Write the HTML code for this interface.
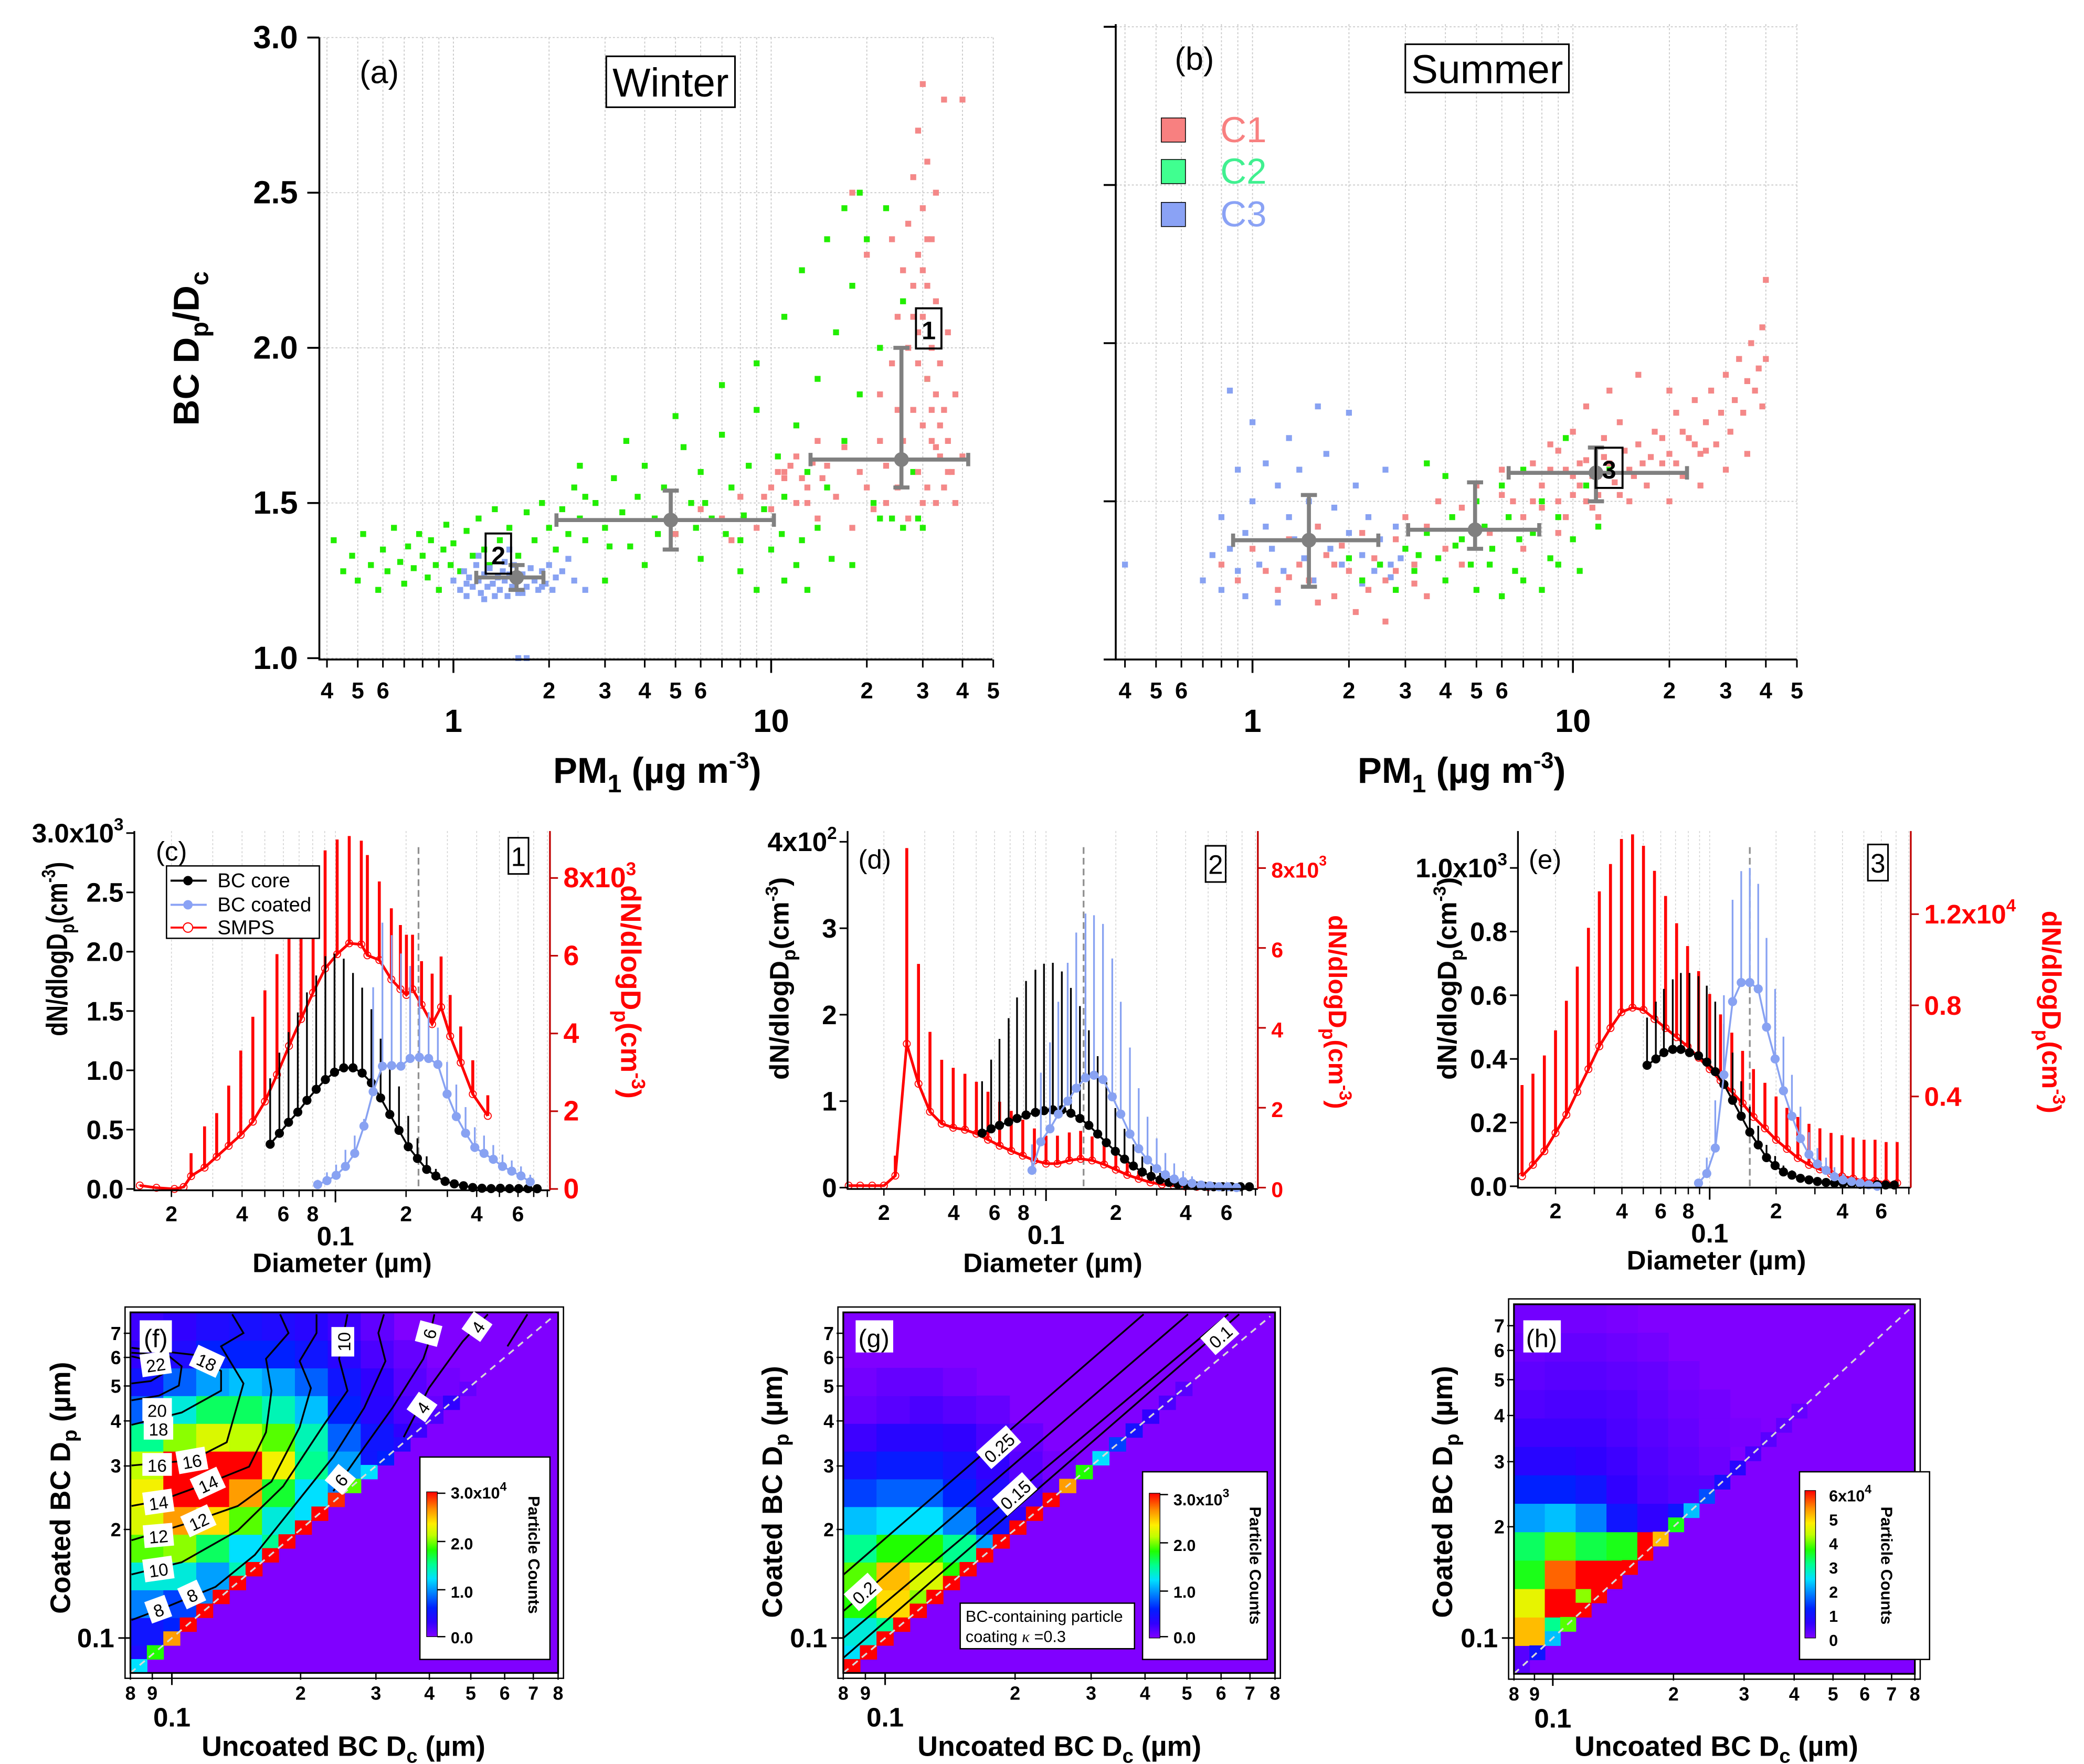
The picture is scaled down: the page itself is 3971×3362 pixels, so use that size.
<!DOCTYPE html>
<html><head><meta charset="utf-8">
<style>
html,body{margin:0;padding:0;background:#fff;}
svg{display:block;font-family:"Liberation Sans",Arial,sans-serif;}
</style></head>
<body>
<svg id="fig" xmlns="http://www.w3.org/2000/svg" viewBox="0 0 1554 1316" width="3971" height="3362">
<defs>
<linearGradient id="cbar" x1="0" y1="1" x2="0" y2="0">
<stop offset="0" stop-color="#8000ff"/><stop offset="0.1" stop-color="#3000ff"/><stop offset="0.2" stop-color="#0020ff"/><stop offset="0.3" stop-color="#0080ff"/><stop offset="0.4" stop-color="#00e0ff"/><stop offset="0.5" stop-color="#00ff90"/><stop offset="0.6" stop-color="#20ff00"/><stop offset="0.7" stop-color="#c0ff00"/><stop offset="0.78" stop-color="#ffee00"/><stop offset="0.88" stop-color="#ff9000"/><stop offset="1" stop-color="#ff0000"/>
</linearGradient>
</defs>
<rect x="0" y="0" width="1554" height="1316" fill="#fff"/>
<g id="marks"></g>

<g id="overlay" font-family="Liberation Sans, Arial, sans-serif">
<!-- Panel a -->
<text x="268" y="62" font-size="24">(a)</text>
<rect x="452" y="42" width="96" height="38" fill="#fff" stroke="#000" stroke-width="1.2"/>
<text x="500" y="72" font-size="30" text-anchor="middle">Winter</text>
<rect x="683" y="230" width="19" height="30" fill="none" stroke="#000" stroke-width="1.5"/>
<text x="692.5" y="253" font-size="19" font-weight="bold" text-anchor="middle">1</text>
<rect x="362" y="398" width="19" height="30" fill="none" stroke="#000" stroke-width="1.5"/>
<text x="371.5" y="421" font-size="19" font-weight="bold" text-anchor="middle">2</text>
<text transform="translate(148,260) rotate(-90)" text-anchor="middle" font-size="27" font-weight="bold">BC D<tspan font-size="19" dy="7">p</tspan><tspan dy="-7">/D</tspan><tspan font-size="19" dy="7">c</tspan></text>
<text x="490" y="584" text-anchor="middle" font-size="27" font-weight="bold">PM<tspan font-size="19" dy="7">1</tspan><tspan dy="-7"> (µg m</tspan><tspan font-size="17" dy="-11">-3</tspan><tspan dy="11">)</tspan></text>

<!-- Panel b -->
<text x="876" y="52" font-size="24">(b)</text>
<rect x="1048" y="33" width="122" height="36" fill="#fff" stroke="#000" stroke-width="1.2"/>
<text x="1109" y="62" font-size="30" text-anchor="middle">Summer</text>
<rect x="1190" y="334" width="20" height="30" fill="none" stroke="#000" stroke-width="1.5"/>
<text x="1200" y="357" font-size="19" font-weight="bold" text-anchor="middle">3</text>
<rect x="866" y="88" width="18" height="18" fill="#f88080" stroke="#000" stroke-width="0.6"/>
<text x="910" y="106" font-size="27" fill="#f88080">C1</text>
<rect x="866" y="119" width="18" height="18" fill="#40ff90" stroke="#000" stroke-width="0.6"/>
<text x="910" y="137" font-size="27" fill="#40f090">C2</text>
<rect x="866" y="151" width="18" height="18" fill="#8aa2f5" stroke="#000" stroke-width="0.6"/>
<text x="910" y="169" font-size="27" fill="#8aa2f5">C3</text>
<text x="1090" y="584" text-anchor="middle" font-size="27" font-weight="bold">PM<tspan font-size="19" dy="7">1</tspan><tspan dy="-7"> (µg m</tspan><tspan font-size="17" dy="-11">-3</tspan><tspan dy="11">)</tspan></text>

<!-- Panel c -->
<text x="116" y="642" font-size="20">(c)</text>
<rect x="379" y="625" width="15" height="27" fill="#fff" stroke="#000" stroke-width="1.2"/>
<text x="386.5" y="646" font-size="20" text-anchor="middle">1</text>
<rect x="124" y="646" width="114" height="54" fill="#fff" stroke="#000" stroke-width="1"/>
<line x1="127" y1="657" x2="154" y2="657" stroke="#000" stroke-width="1.5"/>
<circle cx="140" cy="657" r="3.5" fill="#000"/>
<text x="162" y="662" font-size="15">BC core</text>
<line x1="127" y1="675" x2="154" y2="675" stroke="#8aa2f5" stroke-width="1.5"/>
<circle cx="140" cy="675" r="3.5" fill="#8aa2f5"/>
<text x="162" y="680" font-size="15">BC coated</text>
<line x1="127" y1="692" x2="154" y2="692" stroke="#f00" stroke-width="1.5"/>
<circle cx="140" cy="692" r="3.5" fill="#fff" stroke="#f00" stroke-width="0.8"/>
<text x="162" y="697" font-size="15">SMPS</text>
<text transform="translate(50,708) rotate(-90)" text-anchor="middle" font-size="22" font-weight="bold" textLength="130" lengthAdjust="spacingAndGlyphs">dN/dlogD<tspan font-size="15" dy="5">p</tspan><tspan dy="-5">(cm</tspan><tspan font-size="14" dy="-9">-3</tspan><tspan dy="9">)</tspan></text>
<text transform="translate(463,740) rotate(90)" text-anchor="middle" font-size="21" font-weight="bold" fill="#f00">dN/dlogD<tspan font-size="15" dy="5">p</tspan><tspan dy="-5">(cm</tspan><tspan font-size="14" dy="-8">-3</tspan><tspan dy="8">)</tspan></text>
<text x="255" y="949" text-anchor="middle" font-size="20" font-weight="bold">Diameter (µm)</text>

<!-- Panel d -->
<text x="640" y="648" font-size="20">(d)</text>
<rect x="899" y="631" width="15" height="27" fill="#fff" stroke="#000" stroke-width="1.2"/>
<text x="906.5" y="652" font-size="20" text-anchor="middle">2</text>
<text transform="translate(588,730) rotate(-90)" text-anchor="middle" font-size="20" font-weight="bold">dN/dlogD<tspan font-size="14" dy="5">p</tspan><tspan dy="-5">(cm</tspan><tspan font-size="13" dy="-8">-3</tspan><tspan dy="8">)</tspan></text>
<text transform="translate(991,755) rotate(90)" text-anchor="middle" font-size="19" font-weight="bold" fill="#f00">dN/dlogD<tspan font-size="14" dy="5">p</tspan><tspan dy="-5">(cm</tspan><tspan font-size="13" dy="-8">-3</tspan><tspan dy="8">)</tspan></text>
<text x="785" y="949" text-anchor="middle" font-size="20" font-weight="bold">Diameter (µm)</text>

<!-- Panel e -->
<text x="1140" y="648" font-size="20">(e)</text>
<rect x="1393" y="630" width="15" height="27" fill="#fff" stroke="#000" stroke-width="1.2"/>
<text x="1400.5" y="651" font-size="20" text-anchor="middle">3</text>
<text transform="translate(1086,730) rotate(-90)" text-anchor="middle" font-size="20" font-weight="bold">dN/dlogD<tspan font-size="14" dy="5">p</tspan><tspan dy="-5">(cm</tspan><tspan font-size="13" dy="-8">-3</tspan><tspan dy="8">)</tspan></text>
<text transform="translate(1523,755) rotate(90)" text-anchor="middle" font-size="20" font-weight="bold" fill="#f00">dN/dlogD<tspan font-size="14" dy="5">p</tspan><tspan dy="-5">(cm</tspan><tspan font-size="13" dy="-8">-3</tspan><tspan dy="8">)</tspan></text>
<text x="1280" y="947" text-anchor="middle" font-size="20" font-weight="bold">Diameter (µm)</text>

<!-- Panel f annotations -->
<g font-size="13" text-anchor="middle">
<g transform="translate(116,1018) rotate(-8)"><rect x="-11" y="-9" width="22" height="17" fill="#fff"/><text y="5">22</text></g>
<g transform="translate(154,1016) rotate(25)"><rect x="-11" y="-9" width="22" height="17" fill="#fff"/><text y="5">18</text></g>
<g transform="translate(117,1052)"><rect x="-11" y="-9" width="22" height="17" fill="#fff"/><text y="5">20</text></g>
<g transform="translate(118,1066)"><rect x="-11" y="-9" width="22" height="17" fill="#fff"/><text y="5">18</text></g>
<g transform="translate(117,1093)"><rect x="-11" y="-9" width="22" height="17" fill="#fff"/><text y="5">16</text></g>
<g transform="translate(143,1090) rotate(-10)"><rect x="-11" y="-9" width="22" height="17" fill="#fff"/><text y="5">16</text></g>
<g transform="translate(118,1121) rotate(-8)"><rect x="-11" y="-9" width="22" height="17" fill="#fff"/><text y="5">14</text></g>
<g transform="translate(155,1107) rotate(-25)"><rect x="-11" y="-9" width="22" height="17" fill="#fff"/><text y="5">14</text></g>
<g transform="translate(118,1146) rotate(-5)"><rect x="-11" y="-9" width="22" height="17" fill="#fff"/><text y="5">12</text></g>
<g transform="translate(148,1135) rotate(-25)"><rect x="-11" y="-9" width="22" height="17" fill="#fff"/><text y="5">12</text></g>
<g transform="translate(118,1171) rotate(-8)"><rect x="-11" y="-9" width="22" height="17" fill="#fff"/><text y="5">10</text></g>
<g transform="translate(118,1201) rotate(-20)"><rect x="-8" y="-9" width="16" height="17" fill="#fff"/><text y="5">8</text></g>
<g transform="translate(143,1190) rotate(-25)"><rect x="-8" y="-9" width="16" height="17" fill="#fff"/><text y="5">8</text></g>
<g transform="translate(256,1001) rotate(-90)"><rect x="-11" y="-9" width="22" height="17" fill="#fff"/><text y="5">10</text></g>
<g transform="translate(320,995) rotate(-75)"><rect x="-8" y="-9" width="16" height="17" fill="#fff"/><text y="5">6</text></g>
<g transform="translate(356,990) rotate(-55)"><rect x="-8" y="-9" width="16" height="17" fill="#fff"/><text y="5">4</text></g>
<g transform="translate(315,1050) rotate(-55)"><rect x="-8" y="-9" width="16" height="17" fill="#fff"/><text y="5">4</text></g>
<g transform="translate(254,1104) rotate(-50)"><rect x="-8" y="-9" width="16" height="17" fill="#fff"/><text y="5">6</text></g>
</g>
<rect x="104" y="985" width="24" height="24" fill="#fff"/>
<text x="107" y="1005" font-size="19">(f)</text>
<rect x="313" y="1087" width="97" height="151" fill="#fff" stroke="#000" stroke-width="1"/>
<rect x="318" y="1113" width="8" height="108" fill="url(#cbar)" stroke="#000" stroke-width="0.5"/>
<g font-size="12" font-weight="bold">
<text x="336" y="1118">3.0x10<tspan font-size="9" dy="-6">4</tspan></text>
<text x="336" y="1156">2.0</text><text x="336" y="1192">1.0</text><text x="336" y="1226">0.0</text>
<line x1="326" y1="1114" x2="332" y2="1114" stroke="#000"/><line x1="326" y1="1150" x2="332" y2="1150" stroke="#000"/><line x1="326" y1="1186" x2="332" y2="1186" stroke="#000"/><line x1="326" y1="1221" x2="332" y2="1221" stroke="#000"/>
</g>
<text transform="translate(394,1160) rotate(90)" text-anchor="middle" font-size="12" font-weight="bold">Particle Counts</text>
<text transform="translate(52,1110) rotate(-90)" text-anchor="middle" font-size="21" font-weight="bold">Coated BC D<tspan font-size="15" dy="5">p</tspan><tspan dy="-5"> (µm)</tspan></text>
<text x="256" y="1310" text-anchor="middle" font-size="21" font-weight="bold">Uncoated BC D<tspan font-size="15" dy="5">c</tspan><tspan dy="-5"> (µm)</tspan></text>

<!-- Panel g annotations -->
<g font-size="13" text-anchor="middle">
<g transform="translate(745,1080) rotate(-42)"><rect x="-15" y="-9" width="30" height="17" fill="#fff"/><text y="5">0.25</text></g>
<g transform="translate(757,1115) rotate(-42)"><rect x="-15" y="-9" width="30" height="17" fill="#fff"/><text y="5">0.15</text></g>
<g transform="translate(644,1188) rotate(-42)"><rect x="-12" y="-9" width="24" height="17" fill="#fff"/><text y="5">0.2</text></g>
<g transform="translate(910,997) rotate(-42)"><rect x="-12" y="-9" width="24" height="17" fill="#fff"/><text y="5">0.1</text></g>
</g>
<rect x="638" y="985" width="28" height="24" fill="#fff"/>
<text x="640" y="1005" font-size="19">(g)</text>
<rect x="716" y="1196" width="130" height="34" fill="#fff" stroke="#000" stroke-width="1"/>
<text x="720" y="1210" font-size="12">BC-containing particle</text>
<text x="720" y="1225" font-size="12">coating  <tspan font-style="italic" font-family="Liberation Serif, serif">κ</tspan> =0.3</text>
<rect x="852" y="1098" width="93" height="140" fill="#fff" stroke="#000" stroke-width="1"/>
<rect x="857" y="1114" width="8" height="108" fill="url(#cbar)" stroke="#000" stroke-width="0.5"/>
<g font-size="12" font-weight="bold">
<text x="875" y="1123">3.0x10<tspan font-size="9" dy="-6">3</tspan></text>
<text x="875" y="1157">2.0</text><text x="875" y="1192">1.0</text><text x="875" y="1226">0.0</text>
<line x1="865" y1="1115" x2="871" y2="1115" stroke="#000"/><line x1="865" y1="1151" x2="871" y2="1151" stroke="#000"/><line x1="865" y1="1187" x2="871" y2="1187" stroke="#000"/><line x1="865" y1="1221" x2="871" y2="1221" stroke="#000"/>
</g>
<text transform="translate(932,1168) rotate(90)" text-anchor="middle" font-size="12" font-weight="bold">Particle Counts</text>
<text transform="translate(583,1113) rotate(-90)" text-anchor="middle" font-size="21" font-weight="bold">Coated BC D<tspan font-size="15" dy="5">p</tspan><tspan dy="-5"> (µm)</tspan></text>
<text x="790" y="1310" text-anchor="middle" font-size="21" font-weight="bold">Uncoated BC D<tspan font-size="15" dy="5">c</tspan><tspan dy="-5"> (µm)</tspan></text>

<!-- Panel h annotations -->
<rect x="1136" y="985" width="28" height="24" fill="#fff"/>
<text x="1138" y="1005" font-size="19">(h)</text>
<rect x="1342" y="1098" width="97" height="140" fill="#fff" stroke="#000" stroke-width="1"/>
<rect x="1346" y="1112" width="8" height="110" fill="url(#cbar)" stroke="#000" stroke-width="0.5"/>
<g font-size="12" font-weight="bold">
<text x="1364" y="1120">6x10<tspan font-size="9" dy="-6">4</tspan></text>
<text x="1364" y="1138">5</text><text x="1364" y="1156">4</text><text x="1364" y="1174">3</text><text x="1364" y="1192">2</text><text x="1364" y="1210">1</text><text x="1364" y="1228">0</text>
</g>
<text transform="translate(1403,1168) rotate(90)" text-anchor="middle" font-size="12" font-weight="bold">Particle Counts</text>
<text transform="translate(1083,1113) rotate(-90)" text-anchor="middle" font-size="21" font-weight="bold">Coated BC D<tspan font-size="15" dy="5">p</tspan><tspan dy="-5"> (µm)</tspan></text>
<text x="1280" y="1310" text-anchor="middle" font-size="21" font-weight="bold">Uncoated BC D<tspan font-size="15" dy="5">c</tspan><tspan dy="-5"> (µm)</tspan></text>
</g>
</svg>

<script>
// ================= DATA =================
const winterC2 = [[0.42,1.38],[0.45,1.28],[0.48,1.33],[0.5,1.25],[0.52,1.4],[0.55,1.3],[0.58,1.22],[0.6,1.35],[0.62,1.28],[0.65,1.42],[0.68,1.31],[0.7,1.24],[0.72,1.36],[0.75,1.29],[0.78,1.4],[0.8,1.33],[0.83,1.26],[0.85,1.38],[0.88,1.3],[0.9,1.22],[0.93,1.35],[0.95,1.43],[0.98,1.3],[1.0,1.37],[1.05,1.28],[1.1,1.41],[1.15,1.33],[1.2,1.45],[1.25,1.35],[1.3,1.3],[1.35,1.48],[1.4,1.38],[1.5,1.42],[1.6,1.33],[1.7,1.47],[1.8,1.38],[1.9,1.5],[2.0,1.42],[2.1,1.35],[2.2,1.48],[2.3,1.4],[2.4,1.55],[2.5,1.45],[2.6,1.38],[2.8,1.5],[3.0,1.42],[3.2,1.58],[3.4,1.47],[3.6,1.36],[3.8,1.52],[4.0,1.62],[4.3,1.45],[4.6,1.55],[5.0,1.4],[5.3,1.68],[5.6,1.5],[6,1.6],[6.5,1.45],[7,1.72],[7.5,1.55],[8,1.38],[8.5,1.62],[9,1.8],[9.5,1.48],[10,1.35],[10.5,1.65],[11,1.52],[12,1.3],[12,1.75],[13,1.6],[14,1.42],[14,1.9],[15,1.55],[16,2.05],[17,1.7],[18,2.2],[19,1.85],[20,2.35],[21,1.5],[22,2.0],[23,2.45],[24,1.45],[26,2.15],[28,1.6],[30,1.42],[31,1.9],[3,1.25],[6,1.32],[8,1.28],[11,1.25],[4,1.3],[9,1.22],[13,1.22],[2.5,1.62],[3.5,1.7],[5,1.78],[7,1.88],[9,1.95],[11,2.1],[12.5,2.25],[15,2.35],[17,2.45],[19,2.5],[2.6,1.52],[3.1,1.36],[4.4,1.4],[5.8,1.42],[6.2,1.5],[7.2,1.4],[8.2,1.46],[10.8,1.4],[12.5,1.38],[15.5,1.32],[18,1.3],[22,1.45],[26,1.42],[29,1.45]];
const winterC3 = [[1.0,1.25],[1.05,1.22],[1.08,1.28],[1.1,1.2],[1.12,1.26],[1.15,1.23],[1.18,1.3],[1.2,1.25],[1.22,1.21],[1.25,1.27],[1.28,1.23],[1.3,1.29],[1.33,1.24],[1.35,1.2],[1.38,1.26],[1.4,1.22],[1.43,1.28],[1.45,1.25],[1.48,1.2],[1.5,1.27],[1.53,1.23],[1.55,1.3],[1.58,1.25],[1.6,1.21],[1.65,1.27],[1.7,1.23],[1.75,1.29],[1.8,1.25],[1.85,1.22],[1.9,1.28],[1.95,1.24],[2.0,1.3],[2.1,1.26],[2.2,1.28],[1.2,1.33],[1.5,1.35],[1.6,1.0],[1.7,1.0],[2.3,1.32],[1.1,1.24],[1.25,1.19],[1.45,1.31],[1.65,1.21],[1.9,1.23],[2.05,1.22],[2.4,1.25],[2.6,1.22]];
const winterC1 = [[5,1.4],[6,1.48],[7,1.45],[7.5,1.38],[8,1.52],[9,1.42],[10,1.55],[10,1.48],[11,1.6],[12,1.5],[12,1.65],[13,1.55],[14,1.7],[14,1.45],[15,1.62],[16,1.52],[17,1.68],[18,1.42],[19,1.6],[20,1.55],[21,1.48],[22,1.7],[22,1.85],[23,1.62],[24,1.95],[25,2.1],[25,1.55],[26,2.25],[26,1.7],[27,2.0],[27,2.4],[28,1.8],[28,2.2],[28,2.55],[29,1.6],[29,1.95],[29,2.3],[29,2.7],[30,1.75],[30,2.1],[30,2.45],[30,2.85],[31,1.55],[31,1.9],[31,2.2],[31,2.6],[32,1.7],[32,2.0],[32,2.35],[33,1.5],[33,1.85],[33,2.15],[34,1.65],[34,1.95],[35,1.55],[35,1.8],[36,1.7],[36,2.05],[37,1.6],[38,1.5],[38,1.85],[40,1.65],[40,2.8],[35,2.8],[33,2.5],[30,1.5],[27,1.45],[25,1.8],[23,1.5],[20,2.3],[18,2.5],[24,2.35],[11,1.58],[11.5,1.62],[12.5,1.58],[13.5,1.63],[10.5,1.6],[9.5,1.52],[13,1.5],[14.5,1.58],[29,2.05],[30,2.25],[31,2.35],[28,2.1],[32,1.8],[33,1.68],[34,1.75],[36,1.6]];
const summerC1 = [[0.8,1.3],[0.9,1.25],[1.0,1.35],[1.1,1.28],[1.2,1.22],[1.3,1.38],[1.4,1.3],[1.5,1.25],[1.6,1.42],[1.7,1.33],[1.8,1.2],[1.9,1.36],[2.0,1.28],[2.1,1.15],[2.2,1.4],[2.4,1.32],[2.6,1.25],[2.8,1.38],[3.0,1.45],[3.2,1.3],[3.5,1.42],[3.8,1.5],[4.0,1.35],[4.5,1.48],[5,1.55],[5.5,1.4],[6,1.6],[6.5,1.5],[7,1.45],[7.5,1.62],[8,1.55],[8.5,1.68],[9,1.5],[9.5,1.6],[10,1.72],[10.5,1.55],[11,1.63],[11.5,1.48],[12,1.58],[12.5,1.7],[13,1.62],[14,1.52],[14,1.75],[15,1.6],[16,1.68],[17,1.55],[18,1.72],[19,1.62],[20,1.65],[21,1.78],[22,1.58],[23,1.7],[24,1.82],[25,1.65],[26,1.75],[27,1.85],[28,1.68],[29,1.78],[30,1.9],[31,1.72],[32,1.82],[33,1.95],[34,1.78],[35,1.88],[36,2.0],[37,1.85],[38,1.92],[39,1.8],[40,1.95],[40,2.2],[39,2.05],[1.6,1.18],[2.3,1.22],[2.6,1.12],[3.5,1.2],[4.5,1.3],[7,1.35],[9,1.4],[12,1.45],[15,1.5],[20,1.5],[25,1.55],[30,1.6],[35,1.65],[20,1.85],[16,1.9],[13,1.85],[11,1.8],[6,1.52],[8,1.48],[9.5,1.45],[10,1.52],[10.5,1.62],[11,1.5],[11.5,1.58],[12,1.52],[12.5,1.64],[13.5,1.56],[14.5,1.66],[15.5,1.58],[16.5,1.62],[17.5,1.64],[19,1.7],[21,1.62],[22,1.72],[24,1.68],[26,1.66],[7.5,1.5],[8.5,1.6],[9,1.66],[10,1.58],[2.8,1.28],[3.2,1.24],[1.3,1.26],[1.8,1.3]];
const summerC2 = [[2.5,1.3],[2.8,1.22],[3.0,1.35],[3.2,1.28],[3.5,1.4],[3.8,1.32],[4.0,1.25],[4.2,1.45],[4.5,1.38],[4.8,1.3],[5.0,1.5],[5.3,1.42],[5.6,1.35],[6,1.55],[6.3,1.45],[6.6,1.28],[7,1.6],[7.5,1.4],[8,1.5],[8.5,1.32],[9,1.45],[9.5,1.7],[10,1.38],[11,1.55],[12,1.42],[13,1.6],[3.5,1.62],[4,1.58],[2.2,1.25],[2,1.32],[5,1.22],[6,1.2],[7,1.25],[8,1.22],[3.3,1.33],[4.3,1.36],[5.5,1.3],[6.8,1.38],[9,1.3],[10.5,1.28]];
const summerC3 = [[0.4,1.3],[0.7,1.25],[0.75,1.33],[0.8,1.45],[0.85,1.35],[0.9,1.6],[0.9,1.28],[0.95,1.4],[1.0,1.5],[1.0,1.75],[1.05,1.3],[1.1,1.42],[1.1,1.62],[1.15,1.35],[1.2,1.55],[1.25,1.28],[1.3,1.45],[1.3,1.7],[1.35,1.38],[1.4,1.6],[1.45,1.32],[1.5,1.5],[1.55,1.25],[1.6,1.42],[1.7,1.65],[1.75,1.35],[1.8,1.48],[1.9,1.3],[2.0,1.78],[2.0,1.4],[2.1,1.55],[2.2,1.33],[2.3,1.45],[2.4,1.28],[2.5,1.38],[2.6,1.6],[2.7,1.3],[2.8,1.42],[3.0,1.35],[3.2,1.3],[0.85,1.85],[1.6,1.8],[0.95,1.2],[1.2,1.18],[0.8,1.22],[2.2,1.24],[2.5,1.3],[2.7,1.26],[2.9,1.32]];
const winterMeanPM = [1.58, 4.83, 25.7];
const winterMeanRatio = [1.26, 1.445, 1.64];
const winterPMlo = [1.18, 2.11, 13.3];
const winterPMhi = [1.92, 10.2, 41.7];
const winterRlo = [1.22, 1.35, 1.55];
const winterRhi = [1.30, 1.54, 2.0];
const summerMeanPM = [1.5, 4.95, 11.8];
const summerMeanRatio = [1.377, 1.41, 1.59];
const summerPMlo = [0.87, 3.06, 6.3];
const summerPMhi = [2.47, 7.85, 22.7];
const summerRlo = [1.23, 1.35, 1.5];
const summerRhi = [1.52, 1.56, 1.67];
const ratioTicks = [1.0, 1.5, 2.0, 2.5, 3.0];
const ratioTickLabels = ["1.0","1.5","2.0","2.5","3.0"];
const pmMinor = [0.4,0.5,0.6,0.7,0.8,0.9,2,3,4,5,6,7,8,9,20,30,40,50];
const pmMinorLabels = {0.4:"4",0.5:"5",0.6:"6",2:"2",3:"3",4:"4",5:"5",6:"6",20:"2",30:"3",40:"4",50:"5"};
const pmMajor = [1, 10];

const cCoreD = [0.0527,0.0577,0.0631,0.0691,0.0756,0.0828,0.0906,0.0991,0.1085,0.1188,0.13,0.1423,0.1558,0.1705,0.1866,0.2043,0.2236,0.2448,0.2679,0.2933,0.321,0.3514,0.3846,0.421,0.4608,0.5044,0.5521,0.6043,0.6615,0.7241];
const cCoreV = [0.377,0.469,0.562,0.648,0.747,0.84,0.922,0.984,1.021,1.021,0.977,0.895,0.767,0.628,0.494,0.356,0.257,0.165,0.109,0.064,0.043,0.027,0.012,0.006,0.003,0.006,0.003,0.003,0.003,0.002];
const cCoreE = [0.556,0.68,0.76,0.84,0.91,0.96,1.04,1.0,0.92,0.8,0.72,0.62,0.5,0.42,0.37,0.26,0.17,0.11,0.06,0.04,0.03,0.02,0.02,0.01,0.01,0.01,0.01,0.01,0.01,0.01];
const cCoatD = [0.084,0.092,0.1007,0.1103,0.1208,0.1323,0.1448,0.1586,0.1736,0.1901,0.2081,0.2279,0.2495,0.2732,0.2991,0.3275,0.3586,0.3926,0.4299,0.4707,0.5153,0.5642,0.6178,0.6764];
const cCoatV = [0.037,0.07,0.115,0.19,0.3,0.53,0.82,1.035,1.04,1.035,1.1,1.11,1.1,1.05,0.8,0.61,0.47,0.35,0.3,0.25,0.19,0.15,0.11,0.06];
const cCoatE = [0.04,0.07,0.09,0.14,0.15,0.06,0.88,1.21,1.1,0.95,0.78,0.52,0.39,0.31,0.27,0.27,0.22,0.17,0.15,0.12,0.1,0.09,0.08,0.06];
const cSmpsD = [0.01466,0.01726,0.0206,0.02254,0.02425,0.02768,0.03118,0.03508,0.03949,0.04446,0.05005,0.05634,0.06339,0.07135,0.08032,0.09036,0.1017,0.1145,0.1289,0.1368,0.1538,0.1731,0.1892,0.2007,0.2131,0.2328,0.2583,0.282,0.3083,0.3419,0.3849,0.446];
const cSmpsV = [0.09,0.03,0.0,0.05,0.33,0.55,0.83,1.11,1.39,1.73,2.25,2.94,3.68,4.37,5.05,5.67,6.04,6.32,6.29,6.01,5.89,5.39,5.14,4.99,5.14,4.74,4.24,4.68,3.93,3.25,2.44,1.88];
const cSmpsE = [0.02,0.02,0.02,0.02,0.59,1.06,1.12,1.55,2.17,2.7,2.86,3.1,2.98,3.04,3.04,3.04,2.95,2.76,2.67,2.58,2.02,1.83,1.65,1.55,1.4,1.12,1.3,1.3,1.06,0.93,0.87,0.53];

const smpsGrid = [0.0141,0.0158,0.0178,0.02,0.0224,0.0251,0.0282,0.0316,0.0355,0.0398,0.0447,0.0501,0.0562,0.0631,0.0708,0.0794,0.0891,0.1,0.112,0.126,0.141,0.158,0.178,0.2,0.224,0.251,0.282,0.316,0.355,0.398,0.447,0.501,0.562,0.631,0.708];
const dCoreD = [0.053,0.058,0.063,0.069,0.075,0.082,0.09,0.098,0.107,0.117,0.128,0.14,0.153,0.167,0.182,0.199,0.218,0.238,0.26,0.284,0.31,0.339,0.37,0.405,0.442,0.483,0.528,0.577,0.63,0.689,0.753];
const dCoreV = [0.63,0.68,0.72,0.76,0.8,0.84,0.87,0.89,0.9,0.9,0.86,0.8,0.72,0.62,0.52,0.42,0.33,0.25,0.18,0.13,0.09,0.06,0.04,0.03,0.02,0.015,0.01,0.01,0.01,0.01,0.01];
const dCoreE = [0.6,0.8,1.0,1.2,1.4,1.55,1.65,1.7,1.7,1.6,1.45,1.3,1.1,0.9,0.7,0.5,0.35,0.25,0.18,0.12,0.08,0.05,0.03,0.02,0.01,0.01,0.01,0.01,0.01,0.01,0.01];
const dCoatD = [0.087,0.095,0.104,0.113,0.124,0.135,0.148,0.161,0.176,0.193,0.21,0.23,0.251,0.274,0.3,0.327,0.357,0.39,0.426,0.466,0.509,0.556,0.607,0.663];
const dCoatV = [0.2,0.53,0.68,0.85,1.0,1.15,1.27,1.3,1.25,1.05,0.85,0.62,0.45,0.32,0.22,0.15,0.1,0.07,0.05,0.03,0.02,0.01,0.01,0.0];
const dCoatE = [0.3,0.8,1.0,1.3,1.6,1.8,1.9,1.85,1.8,1.6,1.3,1.0,0.7,0.5,0.35,0.25,0.18,0.12,0.08,0.05,0.03,0.02,0.01,0.01];
const dSmpsV = [0.05,0.05,0.05,0.05,0.3,3.6,2.6,1.9,1.6,1.5,1.45,1.35,1.2,1.05,0.92,0.8,0.68,0.6,0.6,0.68,0.72,0.68,0.58,0.45,0.32,0.22,0.13,0.08,0.05,0.03,0.02,0.01];
const dSmpsE = [0,0,0,0,0.5,4.9,3.0,2.0,1.6,1.5,1.4,1.3,1.2,1.1,1.0,0.9,0.8,0.7,0.7,0.7,0.7,0.6,0.5,0.4,0.3,0.2,0.1,0.05,0.03,0.02,0.01,0.01];
const eCoreD = [0.052,0.057,0.062,0.068,0.074,0.081,0.089,0.097,0.106,0.116,0.127,0.139,0.152,0.166,0.181,0.198,0.216,0.236,0.258,0.282,0.308,0.337,0.368,0.402,0.44,0.481,0.526,0.575,0.628,0.687];
const eCoreV = [0.38,0.4,0.42,0.43,0.43,0.42,0.41,0.39,0.36,0.32,0.27,0.22,0.17,0.13,0.09,0.065,0.045,0.035,0.025,0.02,0.015,0.012,0.01,0.01,0.008,0.006,0.005,0.005,0.004,0.004];
const eCoreE = [0.15,0.18,0.2,0.22,0.24,0.25,0.25,0.24,0.22,0.19,0.15,0.11,0.08,0.06,0.04,0.03,0.02,0.015,0.01,0.01,0.01,0.01,0.01,0.01,0.01,0.01,0.01,0.01,0.01,0.01];
const eCoatD = [0.089,0.097,0.106,0.116,0.127,0.139,0.152,0.166,0.181,0.198,0.216,0.236,0.258,0.282,0.308,0.337,0.368,0.402,0.44,0.481,0.526,0.575];
const eCoatV = [0.01,0.04,0.12,0.35,0.58,0.64,0.64,0.62,0.5,0.4,0.3,0.22,0.15,0.1,0.07,0.05,0.03,0.02,0.015,0.01,0.005,0.0];
const eCoatE = [0.01,0.05,0.15,0.25,0.32,0.35,0.36,0.33,0.28,0.22,0.17,0.13,0.1,0.07,0.05,0.04,0.03,0.02,0.01,0.01,0.01,0.01];
const eSmpsV = [0.05,0.1,0.16,0.24,0.32,0.42,0.52,0.62,0.7,0.77,0.79,0.78,0.74,0.7,0.66,0.62,0.57,0.52,0.47,0.42,0.37,0.31,0.26,0.21,0.17,0.13,0.1,0.08,0.06,0.05,0.04,0.03,0.03,0.02,0.02];
const eSmpsE = [0.4,0.4,0.42,0.45,0.5,0.55,0.62,0.68,0.72,0.76,0.76,0.72,0.65,0.58,0.5,0.44,0.38,0.33,0.29,0.26,0.23,0.21,0.2,0.19,0.18,0.18,0.18,0.18,0.18,0.18,0.18,0.18,0.18,0.18,0.18];

const fRows = [[0.4],[0.5,0.6],[0.9,0.7,0.9],[1.3,1.3,1.0,1.4],[1.9,2.0,1.6,1.2,1.5],[2.2,2.6,2.4,1.9,1.3,1.2],[2.3,3.0,3.0,2.6,1.7,1.2,0.9],[2.1,3.0,3.0,3.0,2.3,1.5,1.0,0.5],[1.5,2.0,2.2,2.1,1.9,1.4,0.8,0.5,0.3],[0.8,1.3,1.6,1.6,1.4,1.1,0.6,0.35,0.2,0.1],[0.5,0.8,1.0,1.1,1.0,0.8,0.5,0.3,0.15,0.05],[0.3,0.4,0.6,0.6,0.6,0.5,0.35,0.2,0.1],[0.25,0.3,0.4,0.45,0.4,0.35,0.25,0.12]];
const fDiag = [1.2,1.8,2.6,3,3,3,3,3,3,3,3,3,2.9,1.9,1.2,0.6,0.4,0.25,0.2,0.3,0.1,0,0,0,0,0];
const fMax = 3.0;
const gRows = [[1.2],[1.3,1.5],[1.8,2.4,2.0],[1.9,2.5,2.2,1.8],[1.5,1.8,1.8,1.5,1.0],[1.1,1.2,1.2,0.9,0.5,0.3],[0.7,0.8,0.8,0.6,0.4,0.2,0.1],[0.45,0.55,0.55,0.45,0.3,0.15,0.05],[0.25,0.35,0.35,0.3,0.2,0.1],[0.1,0.15,0.2,0.15,0.1],[0.05,0.1,0.1,0.05]];
const gDiag = [3,3,3,3,3,3,3,3,3,3,3,3,3,2.6,1.8,1.2,0.7,0.45,0.3,0.2,0.15,0,0,0,0,0];
const gMax = 3.0;
const hRows = [[0.3],[5,3],[4.5,6,4],[3.5,5.5,6,6],[3.2,3.8,3.3,3.5,6],[2.0,2.2,1.8,1.0,0.6,1.0],[1.2,1.2,1.0,0.6,0.4,0.3,0.3],[0.7,0.7,0.6,0.5,0.35,0.25,0.15],[0.5,0.5,0.5,0.4,0.3,0.2,0.1,0.05],[0.35,0.4,0.4,0.35,0.25,0.15,0.1],[0.25,0.3,0.3,0.25,0.2,0.1],[0.15,0.2,0.2,0.15,0.1],[0.1,0.1,0.1,0.05]];
const hDiag = [0.3,1.0,2.2,3.8,6,6,6,6,6,5,3.5,2.2,1.5,0.9,0.7,0.4,0.3,0.25,0.2,0,0,0,0,0,0,0];
const hMax = 6.0;
const fContour22 = [[0.0805,0.604],[0.0933,0.581],[0.0977,0.55],[0.0893,0.516],[0.0805,0.508]];
const fContour20 = [[0.0805,0.618],[0.0977,0.609],[0.1054,0.567],[0.1038,0.501],[0.0933,0.47],[0.0805,0.456]];
const fContour18 = [[0.0805,0.638],[0.1137,0.609],[0.1303,0.55],[0.1303,0.485],[0.1054,0.422],[0.0805,0.39]];
const fContour16 = [[0.1384,0.79],[0.147,0.701],[0.1303,0.644],[0.147,0.508],[0.1343,0.349],[0.1111,0.311],[0.0805,0.301]];
const fContour14 = [[0.179,0.79],[0.1874,0.701],[0.166,0.595],[0.171,0.485],[0.166,0.372],[0.1516,0.2985],[0.1208,0.268],[0.0933,0.2399],[0.0805,0.2323]];
const fContour12 = [[0.2179,0.79],[0.2179,0.701],[0.199,0.586],[0.2114,0.493],[0.199,0.384],[0.171,0.2716],[0.1426,0.2323],[0.1137,0.2115],[0.0805,0.1866]];
const fContour10 = [[0.2574,0.79],[0.246,0.595],[0.2574,0.485],[0.2246,0.384],[0.182,0.2636],[0.1426,0.1986],[0.1054,0.1622],[0.0805,0.15]];
const fContour8 = [[0.3133,0.79],[0.304,0.701],[0.3158,0.586],[0.2818,0.435],[0.2385,0.318],[0.193,0.2323],[0.1563,0.17],[0.1264,0.1386],[0.0977,0.1223],[0.0805,0.1122]];
const fContour6 = [[0.411,0.79],[0.396,0.644],[0.3873,0.595],[0.328,0.435],[0.2818,0.338],[0.2385,0.2553]];
const fContour4 = [[0.548,0.79],[0.4786,0.664],[0.399,0.493],[0.3483,0.3605]];
const fContour4b = [[0.678,0.79],[0.609,0.644]];
const gLineStartDp = [0.1496, 0.1187, 0.1, 0.088];
const gLineEndDc = [0.397, 0.503, 0.624, 0.661];

// ================= HELPERS =================
const NS = 'http://www.w3.org/2000/svg';
const root = document.getElementById('marks');
const L = Math.log10;
function el(tag, attrs, parent) {
  const e = document.createElementNS(NS, tag);
  for (const k in attrs) e.setAttribute(k, attrs[k]);
  (parent || root).appendChild(e);
  return e;
}
function tx(x, y, s, size, anchor, bold, fill) {
  const t = el('text', {x: x, y: y, 'font-size': size, 'text-anchor': anchor || 'middle', 'font-weight': bold ? 'bold' : 'normal', fill: fill || '#000'});
  t.textContent = s;
  return t;
}
const stops = [[0,[128,0,255]],[0.1,[48,0,255]],[0.2,[0,32,255]],[0.3,[0,128,255]],[0.4,[0,224,255]],[0.5,[0,255,144]],[0.6,[32,255,0]],[0.7,[192,255,0]],[0.78,[255,238,0]],[0.88,[255,144,0]],[1,[255,0,0]]];
function cmap(t) {
  t = Math.max(0, Math.min(1, t));
  for (let i = 1; i < stops.length; i++) {
    if (t <= stops[i][0]) {
      const a = stops[i-1], b = stops[i], f = (t - a[0]) / (b[0] - a[0]);
      const c = a[1].map((v, k) => Math.round(v + (b[1][k] - v) * f));
      return 'rgb(' + c.join(',') + ')';
    }
  }
  return 'rgb(255,0,0)';
}

// ================= PANELS a, b =================
function scatterPanel(p) {
  const g = el('g', {});
  
  
  for (const v of pmMinor.concat(pmMajor)) {
    const x = p.xs(v);
    const gl = el('line', {x1: x, y1: p.top, x2: x, y2: p.bottom, stroke: '#c8c8c8', 'stroke-width': 0.7, 'stroke-dasharray': '1.5,1.5'}, g);
    
    
  }
  for (const v of ratioTicks) {
    const y = p.ys(v);
    const gl = el('line', {x1: p.left, y1: y, x2: p.right, y2: y, stroke: '#c8c8c8', 'stroke-width': 0.7, 'stroke-dasharray': '1.5,1.5'}, g);
    
    
  }
  const groups = [[p.c2, '#22ee00', 'c2-point'], [p.c1, '#f48888', 'c1-point'], [p.c3, '#88a2f2', 'c3-point']];
  if (p.c3first) { groups.unshift(groups.pop()); }
  for (const [arr, col, nm] of groups) {
    for (const d of arr) {
      const r = el('rect', {x: p.xs(d[0]) - 2.2, y: p.ys(d[1]) - 2.2, width: 4.4, height: 4.4, fill: col}, g);
      
      
    }
  }
  for (let i = 0; i < p.mPM.length; i++) {
    const cx = p.xs(p.mPM[i]), cy = p.ys(p.mR[i]);
    const x1 = p.xs(p.pLo[i]), x2 = p.xs(p.pHi[i]), y1 = p.ys(p.rLo[i]), y2 = p.ys(p.rHi[i]);
    const eb = el('path', {d: `M${x1},${cy}H${x2}M${x1},${cy-5}V${cy+5}M${x2},${cy-5}V${cy+5}M${cx},${y1}V${y2}M${cx-6},${y1}H${cx+6}M${cx-6},${y2}H${cx+6}`, stroke: '#808080', 'stroke-width': 3, fill: 'none'}, g);
    
    
    const mk = el('circle', {cx: cx, cy: cy, r: 5.5, fill: '#808080'}, g);
    
    
  }
  const ax = el('path', {d: `M${p.left},${p.top}V${p.bottom}H${p.right}`, stroke: '#000', 'stroke-width': 1.4, fill: 'none'}, g);
  
  
  for (let i = 0; i < ratioTicks.length; i++) {
    const y = p.ys(ratioTicks[i]);
    const tk = el('line', {x1: p.left - 9, y1: y, x2: p.left, y2: y, stroke: '#000', 'stroke-width': 1.4}, g);
    
    
    if (p.ylabels) {
      const t = tx(p.left - 16, y + 8, ratioTickLabels[i], 24, 'end', true);
      
      
    }
  }
  for (const v of pmMinor) {
    const x = p.xs(v);
    const tk = el('line', {x1: x, y1: p.bottom, x2: x, y2: p.bottom + 6, stroke: '#000', 'stroke-width': 1.2}, g);
    
    
    if (pmMinorLabels[v]) {
      const t = tx(x, p.bottom + 29, pmMinorLabels[v], 17, 'middle', true);
      
      
    }
  }
  for (const v of pmMajor) {
    const x = p.xs(v);
    const tk = el('line', {x1: x, y1: p.bottom, x2: x, y2: p.bottom + 10, stroke: '#000', 'stroke-width': 1.4}, g);
    
    
    const t = tx(x, p.bottom + 54, String(v), 24, 'middle', true);
    
    
  }
}
scatterPanel({name: 'panel-a-winter', xs: v => 338 + L(v) * 237, ys: v => 491 - (v - 1) * 231.5, left: 238, right: 740, top: 28, bottom: 492,
  c1: winterC1, c2: winterC2, c3: winterC3, mPM: winterMeanPM, mR: winterMeanRatio, pLo: winterPMlo, pHi: winterPMhi, rLo: winterRlo, rHi: winterRhi, ylabels: true});
scatterPanel({name: 'panel-b-summer', xs: v => 934 + L(v) * 239, ys: v => 492 - (v - 1) * 236, left: 832, right: 1340, top: 18, bottom: 492,
  c1: summerC1, c2: summerC2, c3: summerC3, mPM: summerMeanPM, mR: summerMeanRatio, pLo: summerPMlo, pHi: summerPMhi, rLo: summerRlo, rHi: summerRhi, ylabels: false, c3first: true});

// ================= PANELS c, d, e =================
const sizeMinor = [0.02,0.03,0.04,0.05,0.06,0.07,0.08,0.09,0.2,0.3,0.4,0.5,0.6,0.7,0.8];
const sizeMinorLabels = {0.02:"2",0.04:"4",0.06:"6",0.08:"8",0.2:"2",0.4:"4",0.6:"6"};
function series(g, xs, ys, D, V, E, col, name, open) {
  for (let i = 0; i < D.length; i++) {
    const x = xs(D[i]);
    const b = el('line', {x1: x, y1: ys(V[i]), x2: x, y2: ys(V[i] + E[i]), stroke: col, 'stroke-width': open ? 2.2 : 1.3}, g);
    
    
  }
  const pts = D.map((d, i) => xs(d).toFixed(1) + ',' + ys(V[i]).toFixed(1)).join(' ');
  const ln = el('polyline', {points: pts, fill: 'none', stroke: col, 'stroke-width': open ? 2 : 1.4}, g);
  
  
  for (let i = 0; i < D.length; i++) {
    const c = el('circle', {cx: xs(D[i]), cy: ys(V[i]), r: open ? 2.6 : 3.4, fill: open ? 'none' : col, stroke: col, 'stroke-width': open ? 0.7 : 0}, g);
    
    
  }
}
function sizePanel(p) {
  const g = el('g', {});
  
  
  for (const v of sizeMinor.concat([0.1])) {
    const x = p.xs(v);
    if (x < p.x0 || x > p.x1) continue;
    const gl = el('line', {x1: x, y1: p.top, x2: x, y2: p.bottom, stroke: '#d0d0d0', 'stroke-width': 0.6, 'stroke-dasharray': '1.5,1.5'}, g);
    
    
  }
  const dl = el('line', {x1: p.xs(p.dash), y1: p.top + 12, x2: p.xs(p.dash), y2: p.bottom, stroke: '#909090', 'stroke-width': 1.3, 'stroke-dasharray': '5,3'}, g);
  
  
  series(g, p.xs, p.yr, p.smpsD, p.smpsV, p.smpsE, '#ff0000', 'smps', true);
  series(g, p.xs, p.yl, p.coreD, p.coreV, p.coreE, '#000000', 'bc-core', false);
  series(g, p.xs, p.yl, p.coatD, p.coatV, p.coatE, '#88a2f2', 'bc-coated', false);
  const ax = el('path', {d: `M${p.x0},${p.top}V${p.bottom}H${p.x1}`, stroke: '#000', 'stroke-width': 1.3, fill: 'none'}, g);
  
  
  const rax = el('line', {x1: p.x1, y1: p.top, x2: p.x1, y2: p.bottom, stroke: '#c00000', 'stroke-width': 1.3}, g);
  
  
  for (let i = 0; i < p.lt.length; i++) {
    const y = p.yl(p.lt[i]);
    const tk = el('line', {x1: p.x0 - 6, y1: y, x2: p.x0, y2: y, stroke: '#000', 'stroke-width': 1.2}, g);
    
    
    const t = tx(p.x0 - 8, y + 7, p.ltl[i], p.lfs, 'end', true);
    
    
    if (p.ltsup[i]) {
      const s = el('tspan', {dy: -9, 'font-size': p.lfs * 0.65}, t);
      s.textContent = p.ltsup[i];
    }
  }
  for (let i = 0; i < p.rt.length; i++) {
    const y = p.yr(p.rt[i]);
    const tk = el('line', {x1: p.x1, y1: y, x2: p.x1 + 6, y2: y, stroke: '#c00000', 'stroke-width': 1.2}, g);
    
    
    const t = tx(p.x1 + 10, y + 7, p.rtl[i], p.rfs, 'start', true, '#ff0000');
    
    
    if (p.rtsup[i]) {
      const s = el('tspan', {dy: -9, 'font-size': p.rfs * 0.65}, t);
      s.textContent = p.rtsup[i];
    }
  }
  for (const v of sizeMinor) {
    const x = p.xs(v);
    if (x < p.x0 || x > p.x1) continue;
    const tk = el('line', {x1: x, y1: p.bottom, x2: x, y2: p.bottom + 5, stroke: '#000', 'stroke-width': 1}, g);
    
    
    if (sizeMinorLabels[v]) {
      const t = tx(x, p.bottom + 23, sizeMinorLabels[v], 16, 'middle', true);
      
      
    }
  }
  const x1 = p.xs(0.1);
  const tk = el('line', {x1: x1, y1: p.bottom, x2: x1, y2: p.bottom + 9, stroke: '#000', 'stroke-width': 1.2}, g);
  
  
  const t = tx(x1, p.bottom + 41, '0.1', 20, 'middle', true);
  
  
}
sizePanel({name: 'panel-c', xs: d => 250 + L(d / 0.1) * 175, yl: v => 887 - v * 88.5, yr: v => 887 - v * 29, x0: 100, x1: 410, top: 620, bottom: 888, dash: 0.226,
  coreD: cCoreD, coreV: cCoreV, coreE: cCoreE, coatD: cCoatD, coatV: cCoatV, coatE: cCoatE, smpsD: cSmpsD, smpsV: cSmpsV, smpsE: cSmpsE,
  lt: [0,0.5,1,1.5,2,2.5,3], ltl: ['0.0','0.5','1.0','1.5','2.0','2.5','3.0x10'], ltsup: ['','','','','','','3'], lfs: 20,
  rt: [0,2,4,6,8], rtl: ['0','2','4','6','8x10'], rtsup: ['','','','','3'], rfs: 21});
sizePanel({name: 'panel-d', xs: d => 780 + L(d / 0.1) * 173, yl: v => 886 - v * 64.5, yr: v => 886 - v * 29.8, x0: 632, x1: 938, top: 620, bottom: 887, dash: 0.1452,
  coreD: dCoreD, coreV: dCoreV, coreE: dCoreE, coatD: dCoatD, coatV: dCoatV, coatE: dCoatE, smpsD: smpsGrid.slice(0, dSmpsV.length), smpsV: dSmpsV, smpsE: dSmpsE,
  lt: [0,1,2,3,4], ltl: ['0','1','2','3','4x10'], ltsup: ['','','','','2'], lfs: 20,
  rt: [0,2,4,6,8], rtl: ['0','2','4','6','8x10'], rtsup: ['','','','','3'], rfs: 16});
sizePanel({name: 'panel-e', xs: d => 1275 + L(d / 0.1) * 164.5, yl: v => 885 - v * 237.5, yr: v => 886 - v * 170, x0: 1132, x1: 1425, top: 620, bottom: 886, dash: 0.152,
  coreD: eCoreD, coreV: eCoreV, coreE: eCoreE, coatD: eCoatD, coatV: eCoatV, coatE: eCoatE, smpsD: smpsGrid.slice(0, eSmpsV.length), smpsV: eSmpsV, smpsE: eSmpsE,
  lt: [0,0.2,0.4,0.6,0.8,1.0], ltl: ['0.0','0.2','0.4','0.6','0.8','1.0x10'], ltsup: ['','','','','','3'], lfs: 20,
  rt: [0.4,0.8,1.2], rtl: ['0.4','0.8','1.2x10'], rtsup: ['','','4'], rfs: 20});

// ================= PANELS f, g, h =================
const dMinor = [0.08,0.09,0.2,0.3,0.4,0.5,0.6,0.7,0.8];
const dMinorLabels = ['8','9','2','3','4','5','6','7','8'];
const dpMinor = [0.2,0.3,0.4,0.5,0.6,0.7];
const dpMinorLabels = ['2','3','4','5','6','7'];
function heatPanel(p) {
  const g = el('g', {});
  
  
  const X0 = p.xs(0.08), X1 = p.xs(0.8), Y0 = p.ys(0.08), Y1 = p.ys(0.8);
  const fr = el('rect', {x: X0 - 4, y: Y1 - 4, width: X1 - X0 + 8, height: Y0 - Y1 + 8, fill: '#fff', stroke: '#000', 'stroke-width': 1}, g);
  
  
  const bg = el('rect', {x: X0, y: Y1, width: X1 - X0, height: Y0 - Y1, fill: '#8000ff'}, g);
  
  
  const eC = k => 0.08 * Math.pow(10, k / 13);
  const eF = k => 0.08 * Math.pow(10, k / 26);
  for (let j = 0; j < p.rows.length; j++) {
    if (eC(j) >= 0.799) continue;
    const row = p.rows[j];
    for (let i = 0; i < row.length; i++) {
      if (row[i] <= 0) continue;
      let xa, xb, ya, yb;
      if (i < j) { xa = p.xs(eC(i)); xb = p.xs(eC(i + 1)); ya = p.ys(Math.min(0.8, eC(j + 1))); yb = p.ys(eC(j)); }
      else { xa = p.xs(eF(2 * i)); xb = p.xs(eF(2 * i + 1)); ya = p.ys(eF(2 * i + 2)); yb = p.ys(eF(2 * i + 1)); }
      const c = el('rect', {x: xa, y: ya, width: xb - xa + 0.4, height: yb - ya + 0.4, fill: cmap(row[i] / p.max)}, g);
      
      
    }
  }
  for (let k = 0; k < p.diag.length; k++) {
    if (p.diag[k] <= 0) continue;
    const xa = p.xs(eF(k)), xb = p.xs(eF(k + 1)), ya = p.ys(eF(k + 1)), yb = p.ys(eF(k));
    const c = el('rect', {x: xa, y: ya, width: xb - xa + 0.4, height: yb - ya + 0.4, fill: cmap(p.diag[k] / p.max)}, g);
    
    
  }
  const one = el('line', {x1: p.xs(0.08), y1: p.ys(0.08), x2: p.xs(0.78), y2: p.ys(0.78), stroke: '#d8d8d8', 'stroke-width': 1.3, 'stroke-dasharray': '5,4'}, g);
  
  
  for (const cn of p.contours) {
    const pl = el('polyline', {points: cn.map(q => p.xs(q[0]).toFixed(1) + ',' + p.ys(q[1]).toFixed(1)).join(' '), fill: 'none', stroke: '#000', 'stroke-width': 1.3}, g);
    
    
  }
  const ax = el('rect', {x: X0, y: Y1, width: X1 - X0, height: Y0 - Y1, fill: 'none', stroke: '#000', 'stroke-width': 1.3}, g);
  
  
  for (let i = 0; i < dMinor.length; i++) {
    const x = p.xs(dMinor[i]);
    const tk = el('line', {x1: x, y1: Y0, x2: x, y2: Y0 + 5, stroke: '#000', 'stroke-width': 1}, g);
    
    
    const t = tx(x, Y0 + 20, dMinorLabels[i], 14, 'middle', true);
    
    
  }
  const xm = p.xs(0.1);
  const tkm = el('line', {x1: xm, y1: Y0, x2: xm, y2: Y0 + 9, stroke: '#000', 'stroke-width': 1.2}, g);
  
  
  const tm = tx(xm, Y0 + 40, '0.1', 20, 'middle', true);
  
  
  for (let i = 0; i < dpMinor.length; i++) {
    const y = p.ys(dpMinor[i]);
    const tk = el('line', {x1: X0 - 5, y1: y, x2: X0, y2: y, stroke: '#000', 'stroke-width': 1}, g);
    
    
    const t = tx(X0 - 7, y + 5, dpMinorLabels[i], 14, 'end', true);
    
    
  }
  const ym = p.ys(0.1);
  const tky = el('line', {x1: X0 - 9, y1: ym, x2: X0, y2: ym, stroke: '#000', 'stroke-width': 1.2}, g);
  
  
  const ty = tx(X0 - 12, ym + 7, '0.1', 20, 'end', true);
  
  
}
const gContours = gLineStartDp.map((dp, i) => [[0.08, dp], [gLineEndDc[i], 0.79]]);
heatPanel({name: 'panel-f', xs: d => 128 + L(d / 0.1) * 319, ys: d => 1222 - L(d / 0.1) * 269, rows: fRows, diag: fDiag, max: fMax,
  contours: [fContour22, fContour20, fContour18, fContour16, fContour14, fContour12, fContour10, fContour8, fContour6, fContour4, fContour4b]});
heatPanel({name: 'panel-g', xs: d => 660 + L(d / 0.1) * 322, ys: d => 1222 - L(d / 0.1) * 269, rows: gRows, diag: gDiag, max: gMax, contours: gContours});
heatPanel({name: 'panel-h', xs: d => 1158 + L(d / 0.1) * 299, ys: d => 1222 - L(d / 0.1) * 275.7, rows: hRows, diag: hDiag, max: hMax, contours: []});
</script>
</body></html>
